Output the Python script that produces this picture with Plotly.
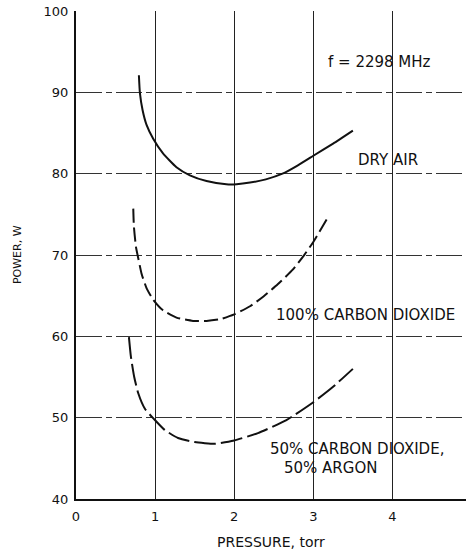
import plotly.graph_objects as go

# Pressure (torr) and power (W) for each gas
dry_air_p = [0.795, 0.808, 0.842, 0.892, 0.976, 1.10, 1.27, 1.44, 1.65, 1.90, 2.03, 2.20, 2.40, 2.61, 2.80, 3.00, 3.25, 3.50]
dry_air_w = [92.1, 89.9, 87.8, 86.0, 84.3, 82.5, 80.8, 79.8, 79.1, 78.7, 78.7, 78.9, 79.3, 80.0, 81.0, 82.2, 83.7, 85.3]

co2_p = [0.724, 0.732, 0.758, 0.787, 0.829, 0.893, 0.976, 1.10, 1.27, 1.48, 1.65, 1.82, 2.00, 2.20, 2.37, 2.55, 2.74, 2.87, 3.00, 3.17]
co2_w = [75.7, 73.5, 71.0, 69.6, 67.7, 65.9, 64.5, 63.2, 62.3, 61.9, 61.9, 62.1, 62.7, 63.7, 64.9, 66.4, 68.2, 69.8, 71.6, 74.4]

mix_p = [0.669, 0.694, 0.736, 0.787, 0.871, 0.989, 1.12, 1.29, 1.50, 1.76, 2.00, 2.30, 2.66, 3.00, 3.25, 3.50]
mix_w = [59.9, 57.5, 55.0, 53.0, 51.1, 49.8, 48.5, 47.5, 47.0, 46.8, 47.2, 48.1, 49.7, 51.9, 53.8, 56.0]

x_ticks = [0, 1, 2, 3, 4]
y_ticks = [40, 50, 60, 70, 80, 90, 100]

font_family = "'DejaVu Sans', sans-serif"
ink = "#111111"

fig = go.Figure()
fig.add_trace(go.Scatter(x=dry_air_p, y=dry_air_w, mode="lines",
                         line=dict(color=ink, width=2, shape="spline", smoothing=0.5)))
fig.add_trace(go.Scatter(x=co2_p, y=co2_w, mode="lines",
                         line=dict(color=ink, width=2, shape="spline", smoothing=0.5, dash="14px,5px")))
fig.add_trace(go.Scatter(x=mix_p, y=mix_w, mode="lines",
                         line=dict(color=ink, width=2, shape="spline", smoothing=0.5, dash="22px,5px")))

labels = [
    (3.84, 93.7, "f = 2298 MHz", "center"),
    (3.94, 81.7, "DRY AIR", "center"),
    (3.66, 62.6, "100% CARBON DIOXIDE", "center"),
    (2.43, 46.1, "50% CARBON DIOXIDE,", "left"),
    (2.61, 43.8, "50% ARGON", "left"),
]
for lx, ly, txt, anchor in labels:
    fig.add_annotation(x=lx, y=ly, text=txt, showarrow=False, xanchor=anchor, yanchor="middle",
                       font=dict(size=15, color=ink, family=font_family))

fig.add_annotation(xref="paper", yref="paper", x=-0.151, y=0.5, text="POWER, W", textangle=-90,
                   showarrow=False, xanchor="center", yanchor="middle",
                   font=dict(size=11, color=ink, family=font_family))
fig.add_annotation(xref="paper", yref="paper", x=0.5, y=-0.088, text="PRESSURE, torr",
                   showarrow=False, xanchor="center", yanchor="middle",
                   font=dict(size=14, color=ink, family=font_family))

fig.update_layout(
    width=466, height=550,
    margin=dict(l=76, r=0, t=11, b=51),
    paper_bgcolor="white", plot_bgcolor="white",
    showlegend=False,
    font=dict(family=font_family, color=ink),
)
fig.update_xaxes(range=[0, 4.93], tickvals=x_ticks, ticktext=[str(v) for v in x_ticks],
                 showline=True, linecolor=ink, linewidth=2, mirror=False,
                 showgrid=True, gridcolor="#222222", gridwidth=1.3,
                 ticks="", ticklabelstandoff=4, tickfont=dict(size=13, color=ink), zeroline=False)
fig.update_yaxes(range=[40, 100], tickvals=y_ticks, ticktext=[str(v) for v in y_ticks],
                 showline=True, linecolor=ink, linewidth=2, mirror=False,
                 showgrid=True, gridcolor="#333333", gridwidth=1.2, griddash="26px,4px,6px,4px",
                 ticks="", ticklabelstandoff=3, tickfont=dict(size=13, color=ink), zeroline=False)

fig.write_html("out.html")
